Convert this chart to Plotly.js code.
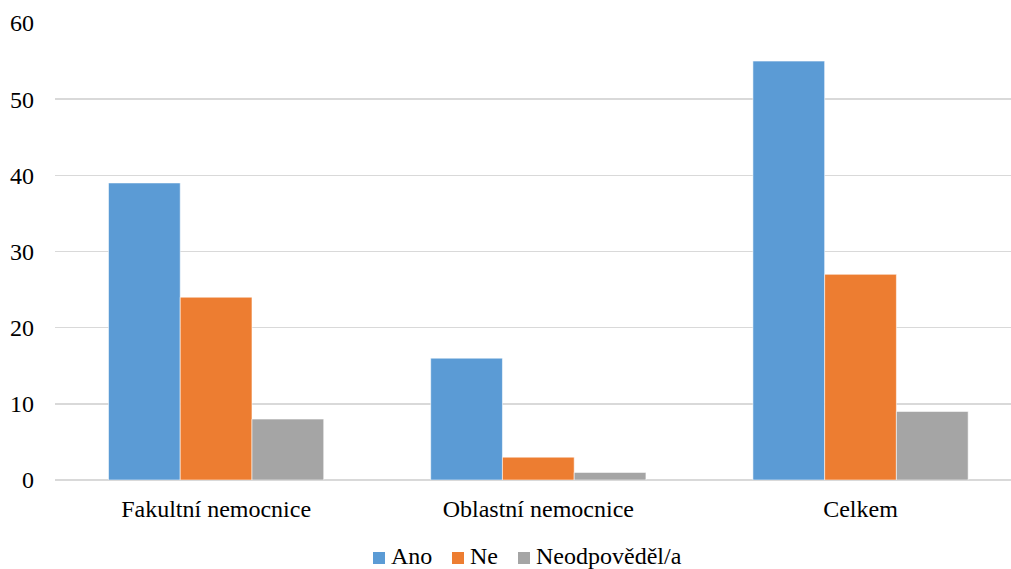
<!DOCTYPE html>
<html>
<head>
<meta charset="utf-8">
<script src="https://cdn.plot.ly/plotly-3.0.1.min.js"></script>
<style>html,body{margin:0;padding:0;background:#fff;}#chart{width:1011px;height:569px;}</style>
</head>
<body>
<div id="chart"></div>
<script>
const categories = ["Fakultní nemocnice", "Oblastní nemocnice", "Celkem"];
const seriesNames = ["Ano", "Ne", "Neodpověděl/a"];
const ano = [39, 16, 55];
const ne = [24, 3, 27];
const neodpovedel = [8, 1, 9];
const seriesColors = ["#5B9BD5", "#ED7D31", "#A5A5A5"];
const yTicks = [0, 10, 20, 30, 40, 50, 60];

const serif = "Liberation Serif";
const W = 1011, H = 569;
const M = { l: 55, r: 0, t: 23, b: 89 };
const plotW = W - M.l - M.r, plotH = H - M.t - M.b;

const values = [ano, ne, neodpovedel];
const traces = values.map((v, i) => ({
  type: "bar",
  name: seriesNames[i],
  x: categories,
  y: v,
  marker: { color: seriesColors[i], line: { color: "rgba(255,255,255,0.55)", width: 1 } },
  hoverinfo: "x+y+name",
  showlegend: false
}));

// Legend drawn as colour squares plus text, laid out in pixel terms
const legendX = [373, 452, 518];   // left edge of each square
const squareY = 558;               // vertical centre of the squares
const textY = 555.5;               // vertical centre of the legend texts
const sq = 12;
const px2x = p => (p - M.l) / plotW;
const px2y = p => (H - M.b - p) / plotH;

const shapes = seriesNames.map((n, i) => ({
  type: "rect", xref: "paper", yref: "paper",
  x0: px2x(legendX[i]), x1: px2x(legendX[i] + sq),
  y0: px2y(squareY + sq / 2), y1: px2y(squareY - sq / 2),
  fillcolor: seriesColors[i], line: { width: 0 }
}));
const annotations = seriesNames.map((n, i) => ({
  text: n, xref: "paper", yref: "paper",
  x: px2x(legendX[i] + sq + 5), y: px2y(textY),
  xanchor: "left", yanchor: "middle", showarrow: false, borderpad: 0,
  font: { family: serif, size: 24, color: "#000000" }
}));

const layout = {
  width: W,
  height: H,
  margin: { l: M.l, r: M.r, t: M.t, b: M.b, autoexpand: false },
  paper_bgcolor: "#ffffff",
  plot_bgcolor: "#ffffff",
  font: { family: serif, size: 24, color: "#000000" },
  barmode: "group",
  bargap: 0.332,
  bargroupgap: 0,
  showlegend: false,
  shapes: shapes,
  annotations: annotations,
  xaxis: {
    type: "category",
    range: [-0.5, 2.467],
    showgrid: false,
    showline: false,
    zeroline: false,
    ticks: "",
    tickfont: { family: serif, size: 24 },
    ticklabelstandoff: 12
  },
  yaxis: {
    range: [0, 60],
    tickvals: yTicks,
    ticktext: yTicks.map(String),
    showgrid: true,
    gridcolor: "#d9d9d9",
    gridwidth: 1.5,
    zeroline: true,
    zerolinecolor: "#d9d9d9",
    zerolinewidth: 1.5,
    showline: false,
    ticks: "",
    tickfont: { family: serif, size: 24 },
    ticklabelstandoff: 20
  }
};

Plotly.newPlot("chart", traces, layout, { displayModeBar: false, staticPlot: true });
</script>
</body>
</html>
